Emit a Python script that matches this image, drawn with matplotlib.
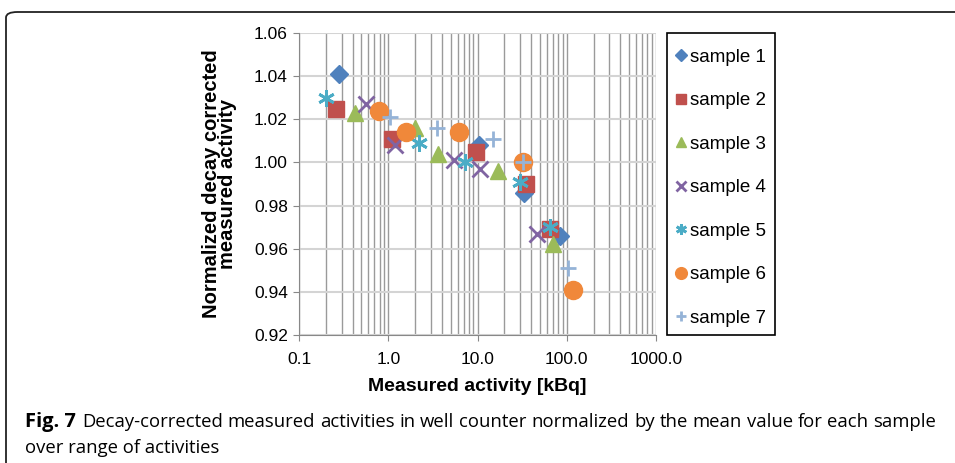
import numpy as np
import matplotlib.pyplot as plt
from matplotlib.patches import FancyBboxPatch, Rectangle

# measured activity [kBq] and normalized decay corrected activity per sample
s1_x = [0.28, 10.4, 33.0, 84.0]
s1_y = [1.041, 1.008, 0.986, 0.966]
s2_x = [0.26, 1.1, 9.5, 35.0, 65.0]
s2_y = [1.025, 1.011, 1.005, 0.990, 0.969]
s3_x = [0.42, 2.0, 3.6, 17.0, 71.0]
s3_y = [1.023, 1.016, 1.004, 0.996, 0.962]
s4_x = [0.57, 1.2, 5.5, 10.8, 47.0]
s4_y = [1.027, 1.008, 1.001, 0.997, 0.967]
s5_x = [0.20, 2.2, 7.3, 30.0, 65.0]
s5_y = [1.030, 1.009, 1.000, 0.991, 0.970]
s6_x = [0.79, 1.6, 6.2, 32.0, 116.0]
s6_y = [1.024, 1.014, 1.014, 1.000, 0.941]
s7_x = [1.04, 3.5, 15.0, 32.0, 104.0]
s7_y = [1.021, 1.016, 1.011, 1.000, 0.951]

labels = ["sample 1", "sample 2", "sample 3", "sample 4", "sample 5", "sample 6", "sample 7"]
xticks = [0.1, 1.0, 10.0, 100.0, 1000.0]
yticks = [0.92, 0.94, 0.96, 0.98, 1.00, 1.02, 1.04, 1.06]

caption1 = "Decay-corrected measured activities in well counter normalized by the mean value for each sample"
caption2 = "over range of activities"

plt.rcParams['font.family'] = ['Liberation Sans', 'DejaVu Sans']

W, H = 955, 463
fig = plt.figure(figsize=(W/100, H/100), dpi=100)
ax = fig.add_axes([299/W, 1-335/H, (656-299)/W, (335-33)/H])

series = [
    (s1_x, s1_y, dict(marker='D', color='#4F81BD', ms=9, ls='none')),
    (s2_x, s2_y, dict(marker='s', color='#C0504D', ms=12, ls='none')),
    (s3_x, s3_y, dict(marker='^', color='#9BBB59', ms=12, ls='none')),
    (s4_x, s4_y, dict(marker='x', color='#8064A2', ms=11, mew=2, ls='none')),
    (s5_x, s5_y, dict(marker=(6, 2, 0), color='#4BACC6', ms=12, mew=2, ls='none')),
    (s6_x, s6_y, dict(marker='o', color='#F0883A', ms=13, ls='none')),
    (s7_x, s7_y, dict(marker='+', color='#95B3D7', ms=12, mew=2, ls='none')),
]
for (x, y, kw), lab in zip(series, labels):
    ax.plot(x, y, label=lab, zorder=3, **kw)

ax.set_xscale('log')
ax.set_xlim(0.1, 1000)
ax.set_ylim(0.92, 1.06)
ax.set_xticks(xticks)
ax.set_xticklabels(["{:.1f}".format(v) for v in xticks])
ax.set_yticks(yticks)
ax.set_yticklabels(["{:.2f}".format(v) for v in yticks])
ax.tick_params(axis='both', labelsize=12.5, length=4, color='#888888', pad=4)
ax.tick_params(axis='x', pad=8)
ax.tick_params(axis='x', which='minor', length=0)

ax.grid(True, which='both', axis='x', color='#9a9a9a', lw=1)
ax.grid(True, which='major', axis='y', color='#d4d4d4', lw=1.5)
ax.set_axisbelow(True)
for side in ['top', 'right']:
    ax.spines[side].set_visible(False)
for side in ['left', 'bottom']:
    ax.spines[side].set_color('#888888')

ax.set_xlabel("Measured activity [kBq]", fontsize=14, weight='bold', labelpad=8)
ax.set_ylabel("Normalized decay corrected\nmeasured activity", fontsize=14.5, weight='bold',
              labelpad=12, linespacing=0.85)

# legend without its own frame, box drawn separately
leg = ax.legend(loc='upper left', bbox_to_anchor=(667/W, 1-40/H),
                bbox_transform=fig.transFigure, fontsize=13.5, frameon=False,
                handlelength=0.6, handletextpad=0.2, labelspacing=1.41,
                borderaxespad=0, borderpad=0.45, markerscale=0.65)
fig.patches.append(Rectangle((667/W, 1-335/H), 108/W, 302/H, transform=fig.transFigure,
                             fill=False, edgecolor='black', lw=1.2))

# outer rounded frame of the figure panel
frame = FancyBboxPatch((6/W, -0.2), 1.2, 1-12/H+0.2, boxstyle="round,pad=0,rounding_size=0.012",
                       transform=fig.transFigure, fill=False, edgecolor='#222222', lw=1.3,
                       clip_on=False)
fig.patches.append(frame)

# caption, first line justified between x=84 and x=936 px
cap_font = ['Open Sans', 'DejaVu Sans']
fig.text(25/W, 1-422/H, "Fig. 7", fontsize=14.5, weight='bold', family=cap_font, va='center')
words = caption1.split()
wtexts = [fig.text(0, 1-422/H, w, fontsize=13.3, family=cap_font, va='center') for w in words]
renderer = fig.canvas.get_renderer()
widths = [t.get_window_extent(renderer).width for t in wtexts]
x0, x1 = 82, 936
gap = (x1 - x0 - sum(widths)) / (len(words) - 1)
xpos = x0
for t, wd in zip(wtexts, widths):
    t.set_x(xpos / W)
    xpos += wd + gap
fig.text(25/W, 1-448/H, caption2, fontsize=13.3, family=cap_font, va='center')

fig.savefig("out.png", dpi=100)
